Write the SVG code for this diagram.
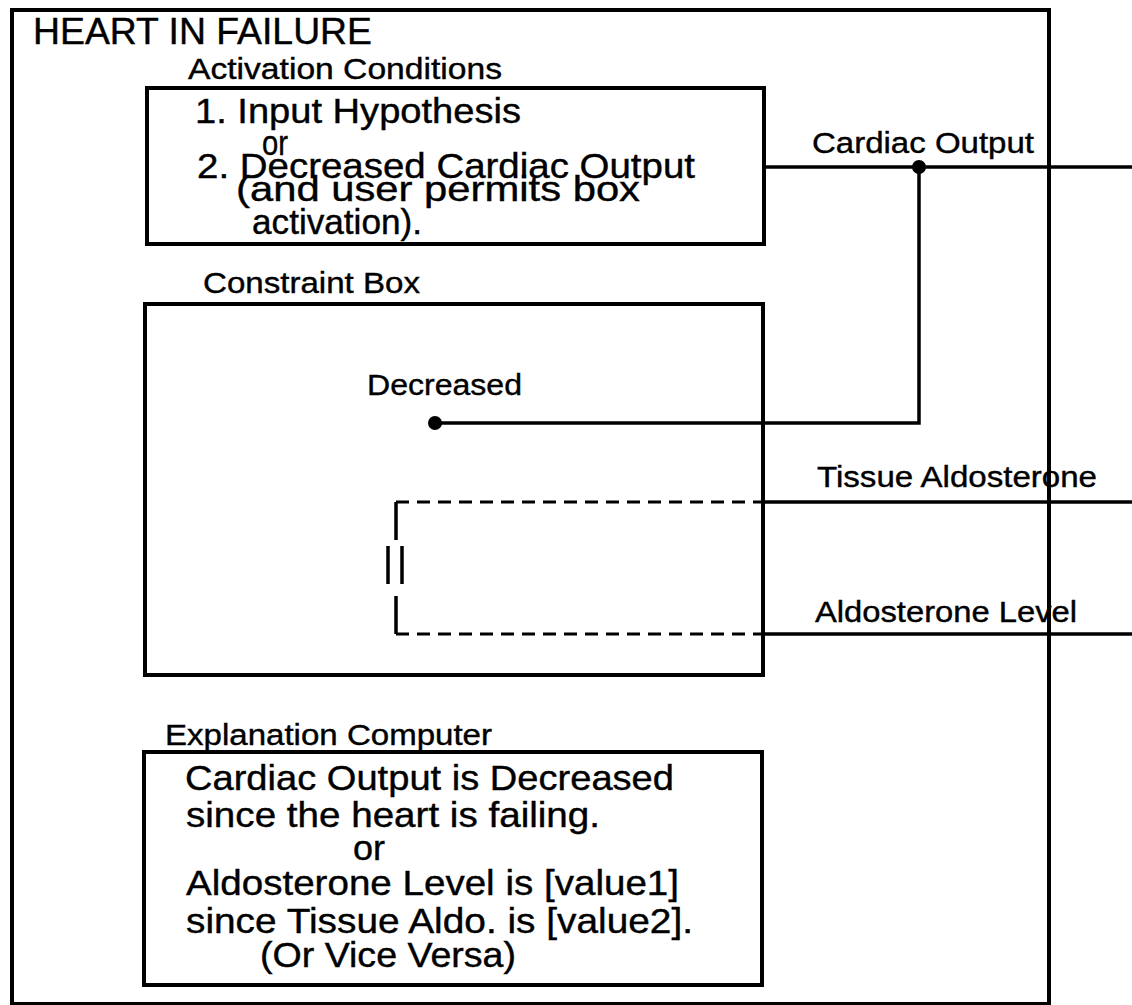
<svg xmlns="http://www.w3.org/2000/svg" width="1132" height="1005" viewBox="0 0 1132 1005">
<style>
text{font-family:"Liberation Sans",Arial,Helvetica,sans-serif;fill:#000;stroke:#000;stroke-width:0.4}
.box{fill:none;stroke:#000;stroke-width:4}
.ln{fill:none;stroke:#000;stroke-width:3.5}
.dash{fill:none;stroke:#000;stroke-width:3;stroke-dasharray:13 8}
.lbl{font-size:30px}
.big{font-size:35px}
</style>
<rect width="1132" height="1005" fill="#fff"/>
<g id="heart-in-failure">
<rect class="box" x="12" y="10" width="1037" height="994" stroke-width="3.5"/>
<text x="33" y="44" font-size="36" textLength="339" lengthAdjust="spacingAndGlyphs">HEART IN FAILURE</text>
</g>
<g id="activation-conditions">
<text class="lbl" x="188" y="79" textLength="314" lengthAdjust="spacingAndGlyphs">Activation Conditions</text>
<rect class="box" x="147" y="88" width="617" height="156"/>
<text class="big" x="195" y="123" textLength="326" lengthAdjust="spacingAndGlyphs">1. Input Hypothesis</text>
<text class="big" x="262" y="155" textLength="26" lengthAdjust="spacingAndGlyphs">or</text>
<text class="big" x="197" y="178" textLength="498" lengthAdjust="spacingAndGlyphs">2. Decreased Cardiac Output</text>
<text class="big" x="236" y="201" textLength="404" lengthAdjust="spacingAndGlyphs">(and user permits box</text>
<text class="big" x="252" y="234" textLength="170" lengthAdjust="spacingAndGlyphs">activation).</text>
</g>
<g id="constraint-box">
<text class="lbl" x="203" y="293" textLength="217" lengthAdjust="spacingAndGlyphs">Constraint Box</text>
<rect class="box" x="145" y="304" width="618" height="371"/>
<text class="lbl" x="367" y="395" textLength="155" lengthAdjust="spacingAndGlyphs">Decreased</text>
<circle cx="435" cy="423" r="7"/>
<path class="ln" d="M396 540V502M396 596V634M388 546V584M402 546V584"/>
</g>
<g id="explanation-computer">
<text class="lbl" x="165" y="745" textLength="327" lengthAdjust="spacingAndGlyphs">Explanation Computer</text>
<rect class="box" x="144" y="752" width="618" height="233"/>
<text class="big" x="185" y="790" textLength="489" lengthAdjust="spacingAndGlyphs">Cardiac Output is Decreased</text>
<text class="big" x="186" y="827" textLength="414" lengthAdjust="spacingAndGlyphs">since the heart is failing.</text>
<text class="big" x="353" y="860" textLength="32" lengthAdjust="spacingAndGlyphs">or</text>
<text class="big" x="186" y="895" textLength="493" lengthAdjust="spacingAndGlyphs">Aldosterone Level is [value1]</text>
<text class="big" x="186" y="933" textLength="507" lengthAdjust="spacingAndGlyphs">since Tissue Aldo. is [value2].</text>
<text class="big" x="260" y="967" textLength="256" lengthAdjust="spacingAndGlyphs">(Or Vice Versa)</text>
</g>
<g id="connectors">
<path class="ln" d="M764 167H1132"/>
<circle cx="919" cy="167" r="7"/>
<path class="ln" d="M919 167V423H435"/>
<text class="lbl" x="812" y="153" textLength="222" lengthAdjust="spacingAndGlyphs">Cardiac Output</text>
<path class="dash" d="M396 502H763"/>
<path class="ln" d="M763 502H1132"/>
<text class="lbl" x="817" y="487" textLength="280" lengthAdjust="spacingAndGlyphs">Tissue Aldosterone</text>
<path class="dash" d="M396 634H763"/>
<path class="ln" d="M763 634H1132"/>
<text class="lbl" x="815" y="622" textLength="262" lengthAdjust="spacingAndGlyphs">Aldosterone Level</text>
</g>
</svg>
